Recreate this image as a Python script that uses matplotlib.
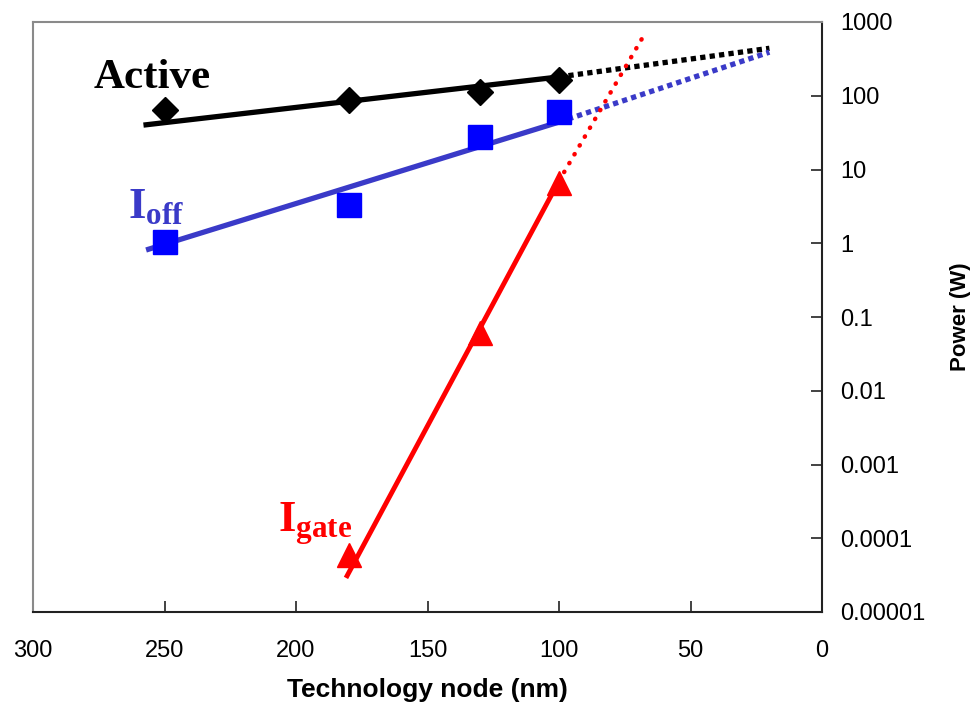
import matplotlib
matplotlib.use("Agg")
import matplotlib.pyplot as plt

# ---- data ----
nodes = [250, 180, 130, 100]
active = [64, 87, 113, 163]
ioff = [1.04, 3.3, 27.6, 60]
igate_nodes = [180, 130, 100]
igate = [5.9e-5, 0.061, 6.6]

active_fit_x = [258, 100]
active_fit_y = [40, 180]
active_ext_x = [100, 20]
active_ext_y = [180, 440]

ioff_fit_x = [257, 100]
ioff_fit_y = [0.81, 44]
ioff_ext_x = [100, 20]
ioff_ext_y = [44, 390]

igate_fit_x = [181, 100]
igate_fit_y = [2.9e-5, 7.0]
igate_ext_x = [100, 67]
igate_ext_y = [7.0, 730]

xticks = [300, 250, 200, 150, 100, 50, 0]
yticks = [1e-5, 1e-4, 1e-3, 1e-2, 0.1, 1, 10, 100, 1000]
ytick_labels = ["0.00001", "0.0001", "0.001", "0.01", "0.1", "1", "10", "100", "1000"]

plt.rcParams['mathtext.fontset'] = 'custom'
plt.rcParams['mathtext.bf'] = 'Liberation Serif:bold'
plt.rcParams['mathtext.rm'] = 'Liberation Serif'

fig = plt.figure(figsize=(9.76, 7.12), dpi=100)
ax = fig.add_axes([33/976, 1-612/712, (822-33)/976, (612-22)/712])

BLACK = 'black'
BLUE = '#3a3ac8'
RED = '#ff0000'

# fits
ax.plot(active_fit_x, active_fit_y, color=BLACK, lw=3.8, solid_capstyle='butt', zorder=2)
ax.plot(active_ext_x, active_ext_y, color=BLACK, lw=3.8, linestyle=(0, (1, 0.8)), dash_capstyle='butt', zorder=2)
ax.plot(ioff_fit_x, ioff_fit_y, color=BLUE, lw=3.8, solid_capstyle='butt', zorder=2)
ax.plot(ioff_ext_x, ioff_ext_y, color=BLUE, lw=3.8, linestyle=(0, (1, 0.8)), dash_capstyle='butt', zorder=2)
ax.plot(igate_fit_x, igate_fit_y, color=RED, lw=3.5, solid_capstyle='butt', zorder=2)
ax.plot(igate_ext_x, igate_ext_y, color=RED, lw=3.2, linestyle=(0, (0.1, 2.2)), dash_capstyle='round', zorder=2)

# markers
ax.plot(nodes, active, linestyle='none', marker='D', ms=13, color=BLACK, zorder=3)
ax.plot(nodes, ioff, linestyle='none', marker='s', ms=17, color='#0000ff', zorder=3)
ax.plot(igate_nodes, igate, linestyle='none', marker='^', ms=17, color=RED, zorder=3)

ax.set_yscale('log')
ax.set_xlim(300, 0)
ax.set_ylim(1e-5, 1000)
ax.set_xticks(xticks)
ax.set_xticklabels([str(t) for t in xticks])
ax.set_yticks(yticks)
ax.set_yticklabels(ytick_labels)
ax.minorticks_off()
ax.yaxis.tick_right()
ax.yaxis.set_label_position('right')
ax.tick_params(axis='both', direction='in', length=8, width=1.2, colors='#222222',
               labelcolor='black', labelsize=17)
ax.tick_params(axis='x', pad=20)
ax.tick_params(axis='y', pad=13)
for lab in ax.get_xticklabels() + ax.get_yticklabels():
    lab.set_fontfamily('Liberation Sans')

for s in ['left', 'top']:
    ax.spines[s].set_color('#8a8a8a')
    ax.spines[s].set_linewidth(1.5)
for s in ['right', 'bottom']:
    ax.spines[s].set_color('#222222')
    ax.spines[s].set_linewidth(1.5)

ax.set_xlabel('Technology node (nm)', fontsize=19, fontweight='bold', family='Liberation Sans', labelpad=12)
ax.set_ylabel('Power (W)', fontsize=16, fontweight='bold', family='Liberation Sans', labelpad=18)

ax.text(277, 172, 'Active', fontsize=31, fontweight='bold', family='Liberation Serif',
        color=BLACK, ha='left', va='center')
ax.text(264, 3.2, r'$\mathbf{I_{off}}$', fontsize=32, color=BLUE, ha='left', va='center')
ax.text(207, 1.6e-4, r'$\mathbf{I_{gate}}$', fontsize=32, color=RED, ha='left', va='center')

fig.savefig('out.png', dpi=100)
